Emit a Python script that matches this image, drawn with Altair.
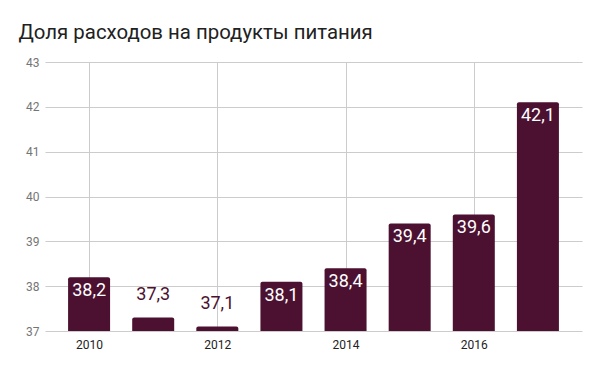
import altair as alt
import pandas as pd

years = [2010, 2011, 2012, 2013, 2014, 2015, 2016, 2017]
values = [38.2, 37.3, 37.1, 38.1, 38.4, 39.4, 39.6, 42.1]
x_ticks = [2010, 2012, 2014, 2016]
y_ticks = [37, 38, 39, 40, 41, 42, 43]
title = "Доля расходов на продукты питания"

df = pd.DataFrame({"year": years, "value": values})

BAR = "#4c1130"
FONT = "Roboto"

x = alt.X("year:Q",
          scale=alt.Scale(domain=[2009.3125, 2017.6875], nice=False, zero=False, padding=0),
          axis=alt.Axis(values=x_ticks, format="d", title=None, ticks=False, domain=False,
                        grid=True, gridColor="#cccccc", labelColor="#222222",
                        labelFont=FONT, labelFontSize=12, labelPadding=8))
y = alt.Y("value:Q",
          scale=alt.Scale(domain=[37, 43], nice=False, zero=False, padding=0),
          axis=alt.Axis(values=y_ticks, title=None, ticks=False, domain=False,
                        grid=True, gridColor="#cccccc", labelColor="#757575",
                        labelFont=FONT, labelFontSize=12, labelPadding=6))

base = alt.Chart(df).transform_calculate(
    label="replace(format(datum.value, '.1f'), '.', ',')"
)

bars = base.mark_bar(color=BAR, size=42, cornerRadiusTopLeft=2, cornerRadiusTopRight=2).encode(
    x=x, y=y, y2=alt.datum(37)
)

inside = base.transform_filter("datum.value >= 38").mark_text(
    color="white", font=FONT, fontSize=18, baseline="top", dy=5
).encode(x="year:Q", y="value:Q", text="label:N")

outside = base.transform_filter("datum.value < 38").mark_text(
    color=BAR, font=FONT, fontSize=18, baseline="bottom", dy=-14
).encode(x="year:Q", y="value:Q", text="label:N")

chart = alt.layer(bars, inside, outside).properties(
    width=537, height=269,
    autosize=alt.AutoSizeParams(type="none"),
    padding={"left": 37, "top": 54, "right": 10, "bottom": 30},
    title=alt.TitleParams(title, anchor="start", font=FONT, fontSize=20.4, fontWeight="normal",
                          color="#212121", dx=-7, offset=13),
).configure_view(stroke=None)

chart.save("out.html", embed_options={"renderer": "svg", "actions": False})
